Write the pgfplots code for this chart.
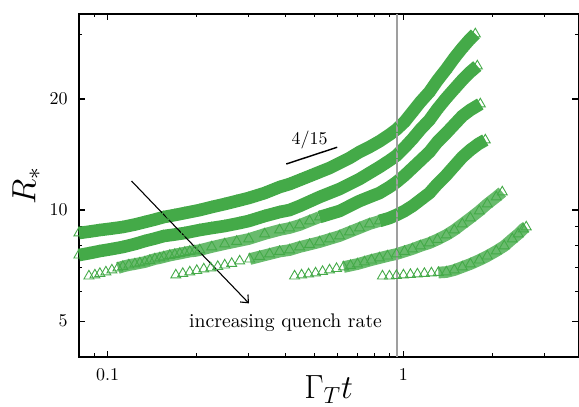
\documentclass[border=0pt]{standalone}
\usepackage{pgfplots}
\pgfplotsset{compat=1.18}
\usepackage{pgfplotstable}
\usetikzlibrary{arrows.meta}
\definecolor{gr}{RGB}{68,170,72}
\colorlet{lg}{gr!80!white}

\pgfplotstableread{
x y
0.0800 8.663
0.08715 8.744
0.09419 8.827
0.1034 8.910
0.11262 8.994
0.12366 9.135
0.13365 9.279
0.14445 9.424
0.15488 9.572
0.16873 9.693
0.18238 9.814
0.20494 10.000
0.22499 10.189
0.24885 10.382
0.27317 10.578
0.29990 10.779
0.33952 11.119
0.38145 11.543
0.41230 11.762
0.44566 12.058
0.48165 12.363
0.52061 12.676
0.56266 12.996
0.60814 13.408
0.65728 13.834
0.71039 14.366
0.76781 14.822
0.82985 15.355
0.89692 16.004
0.94706 16.535
1.0078 17.328
1.0724 18.444
1.1412 19.634
1.2241 20.899
1.3024 22.448
1.3967 24.120
1.4862 25.843
1.5814 27.506
1.6700 28.915
1.7498 30.021
}\sone

\pgfplotstableread{
x y
0.0800 7.550
0.08715 7.645
0.09419 7.742
0.1034 7.840
0.11262 7.939
0.12366 8.087
0.13365 8.240
0.14445 8.370
0.15488 8.502
0.16873 8.583
0.18238 8.663
0.20494 8.827
0.22499 8.938
0.24885 9.050
0.27961 9.221
0.29990 9.337
0.33952 9.632
0.38145 9.875
0.41230 10.000
0.44566 10.253
0.48165 10.545
0.52061 10.846
0.56266 11.119
0.60814 11.400
0.65728 11.762
0.71039 12.133
0.76781 12.597
0.82985 13.078
0.89692 13.620
0.94706 14.047
1.0078 14.764
1.0724 15.581
1.1412 16.535
1.2241 17.545
1.3024 18.793
1.3967 20.130
1.4862 21.295
1.5814 22.518
1.6830 23.672
1.7773 24.573
}\stwo

\pgfplotstableread{
x y
0.08648 6.622
0.09060 6.664
0.09419 6.727
0.09869 6.790
0.1034 6.875
0.10834 6.961
0.11262 7.027
0.11801 7.093
0.12366 7.138
0.12856 7.183
0.13365 7.227
0.13895 7.296
0.14445 7.364
0.15018 7.410
0.15488 7.457
0.16229 7.527
0.16873 7.574
0.17543 7.621
0.18238 7.669
0.18961 7.718
0.19713 7.742
0.20494 7.791
0.22499 7.939
0.24885 8.087
0.27317 8.214
0.29990 8.344
0.33952 8.609
0.38145 8.827
0.41230 8.938
0.44566 9.107
0.48165 9.337
0.52061 9.572
0.56266 9.753
0.60814 9.938
0.65728 10.253
0.71039 10.578
0.76781 10.846
0.82985 11.119
0.89692 11.543
0.94706 11.900
1.0078 12.401
1.0724 12.996
1.1412 13.620
1.2241 14.366
1.3024 15.292
1.3967 16.175
1.4862 17.058
1.5814 17.987
1.6830 18.675
1.8191 19.388
}\sthree

\pgfplotstableread{
x y
0.17005 6.664
0.17956 6.727
0.18961 6.790
0.20022 6.853
0.21142 6.918
0.22325 6.961
0.23572 7.027
0.24885 7.093
0.26277 7.160
0.27961 7.273
0.30224 7.364
0.32659 7.480
0.35299 7.598
0.38145 7.718
0.41230 7.791
0.44566 7.939
0.48165 8.061
0.52061 8.188
0.56266 8.344
0.60814 8.502
0.65728 8.717
0.71039 8.938
0.76781 9.164
0.82985 9.337
0.89692 9.513
0.94706 9.693
1.0078 9.938
1.0724 10.253
1.1412 10.650
1.2241 11.119
1.3024 11.762
1.3967 12.440
1.4862 13.160
1.5814 13.920
1.6830 14.547
1.7911 15.100
1.8911 15.480
}\sfour

\pgfplotstableread{
x y
0.42866 6.622
0.45264 6.664
0.47793 6.706
0.50466 6.748
0.53289 6.811
0.56266 6.875
0.59413 6.939
0.62734 7.005
0.66241 7.071
0.69942 7.138
0.73857 7.227
0.77983 7.318
0.82985 7.410
0.88308 7.503
0.94706 7.598
1.0078 7.718
1.0724 7.840
1.1412 7.989
1.2241 8.137
1.3024 8.318
1.3967 8.556
1.4862 8.827
1.5814 9.164
1.6830 9.513
1.8050 9.938
1.9208 10.382
2.0598 10.846
2.1581 11.189
}\sfive

\pgfplotstableread{
x y
0.84942 6.622
0.89692 6.622
0.94706 6.643
1.0000 6.664
1.0559 6.685
1.1149 6.706
1.1773 6.727
1.2433 6.748
1.3126 6.769
1.3967 6.790
1.4862 6.875
1.5814 7.005
1.6830 7.138
1.8050 7.318
1.9208 7.503
2.0598 7.742
2.1919 7.989
2.3329 8.344
2.4440 8.609
2.5409 8.882
2.6008 8.994
}\ssix

\begin{document}
\begin{tikzpicture}
\begin{axis}[
  scale only axis, width=277.8pt, height=190.7pt,
  xmode=log, ymode=log,
  xmin=0.08, xmax=3.9, ymin=4, ymax=34,
  xtick={0.1,1}, xticklabels={$0.1$,$1$},
  minor xtick={0.09,0.2,0.3,0.4,0.5,0.6,0.7,0.8,0.9,2,3},
  ytick={5,10,20}, yticklabels={$5$,$10$,$20$},
  minor ytick={6,7,8,9,30},
  tick align=inside,
  major tick length=3.3pt, minor tick length=1.9pt,
  every tick/.style={black, line width=0.6pt},
  axis line style={line width=0.8pt},
  xticklabel style={yshift=-3.4pt},
  yticklabel style={xshift=-2.8pt},
  xlabel={\scalebox{1.08}{$\Gamma_T t$}},
  ylabel={\scalebox{1.08}{$R_*$}},
  xlabel style={font=\LARGE, at={(axis description cs:0.5,-0.122)}, anchor=base},
  ylabel style={font=\LARGE, at={(axis description cs:-0.0871,0.5)}, anchor=base},
  clip=false,
]
% hatched (lighter) parts
\addplot[lg, line width=6.5pt, line join=round, skip coords between index={0}{5}, skip coords between index={32}{100}] table {\sthree};
\addplot[lg, line width=6.5pt, line join=round, skip coords between index={0}{10}, skip coords between index={24}{100}] table {\sfour};
\addplot[lg, line width=6.5pt, line join=round, skip coords between index={0}{7}] table {\sfive};
\addplot[lg, line width=6.5pt, line join=round, skip coords between index={0}{8}] table {\ssix};
% solid parts
\addplot[gr, line width=7pt, line join=round] table {\sone};
\addplot[gr, line width=7pt, line join=round] table {\stwo};
\addplot[gr, line width=7pt, line join=round, skip coords between index={0}{31}] table {\sthree};
\addplot[gr, line width=7pt, line join=round, skip coords between index={0}{23}] table {\sfour};
% markers
\addplot[gr, only marks, mark=triangle, mark size=3.2pt, mark options={line width=0.5pt}] table {\sone};
\addplot[gr, only marks, mark=triangle, mark size=3.2pt, mark options={line width=0.5pt}] table {\stwo};
\addplot[gr, only marks, mark=triangle, mark size=3.2pt, mark options={line width=0.5pt}] table {\sthree};
\addplot[gr, only marks, mark=triangle, mark size=3.2pt, mark options={line width=0.5pt}] table {\sfour};
\addplot[gr, only marks, mark=triangle, mark size=3.2pt, mark options={line width=0.5pt}] table {\sfive};
\addplot[gr, only marks, mark=triangle, mark size=3.2pt, mark options={line width=0.5pt}] table {\ssix};
% vertical line
\addplot[gray!75, line width=1.1pt] coordinates {(0.9493,4) (0.9493,34)};
% slope indicator
\addplot[black, line width=0.8pt] coordinates {(0.4018,13.33) (0.5974,14.80)};
\node[anchor=base] at (axis cs:0.4817,15.07) {$4/15$};
% arrow
\addplot[black, line width=0.6pt, -{Straight Barb[length=3.5pt,width=6pt]}] coordinates {(0.1205,11.985) (0.3006,5.584)};
\node[anchor=base] at (axis cs:0.3997,4.816) {\scalebox{1.095}{increasing quench rate}};
\end{axis}
\pgfresetboundingbox
\path ([shift={(-43.9pt,-27.6pt)}]current axis.south west) rectangle ([shift={(0.4pt,7.8pt)}]current axis.north east);
\end{tikzpicture}
\end{document}
